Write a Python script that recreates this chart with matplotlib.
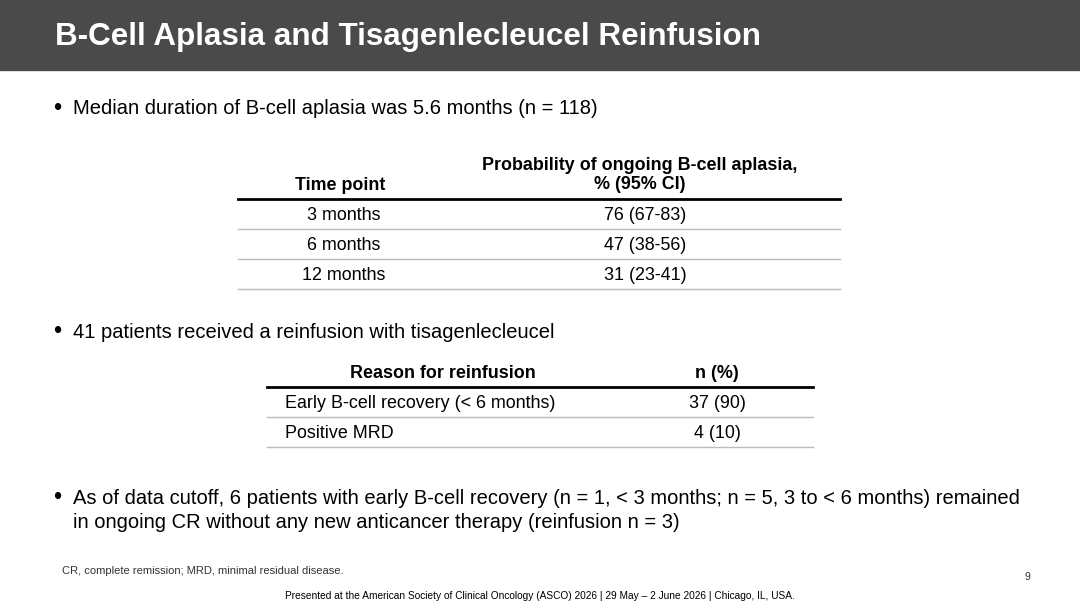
#!/usr/bin/env python
# -*- coding: utf8 -*-

import matplotlib.pyplot as plt

plt.rcParams['font.family'] = ['Liberation Sans', 'DejaVu Sans']

aplasia = [["3 months", "76 (67-83)"],
           ["6 months", "47 (38-56)"],
           ["12 months", "31 (23-41)"]]
reasons = [["Early B-cell recovery (< 6 months)", "37 (90)"],
           ["Positive MRD", "4 (10)"]]

def Slide(savefile):
  fig = plt.figure(figsize=(10.8, 6.08), dpi=100)
  ax = fig.add_axes([0, 0, 1, 1])
  ax.set_xlim(0, 1080)
  ax.set_ylim(608, 0)
  ax.axis("off")

  # header band
  ax.fill_between([0, 1080], 0, 70, color="#4a4a4a")
  ax.text(55, 37, "B-Cell Aplasia and Tisagenlecleucel Reinfusion", color="white",
          fontsize=22.6, fontweight="bold", va="center")

  # bullets
  bullets = [(109, "Median duration of B-cell aplasia was 5.6 months (n = 118)"),
             (332, "41 patients received a reinfusion with tisagenlecleucel"),
             (498, "As of data cutoff, 6 patients with early B-cell recovery (n = 1, < 3 months; n = 5, 3 to < 6 months) remained"),
             (522, "in ongoing CR without any new anticancer therapy (reinfusion n = 3)")]
  for y, s in bullets:
    if not s.startswith("in ongoing"):
      ax.text(57, y, u"\u2022", fontsize=17, va="center", ha="center")
    ax.text(73, y, s, fontsize=14.5, va="center")

  # table 1
  ax.text(340, 186, "Time point", fontsize=12.9, fontweight="bold", ha="center", va="center")
  ax.text(640, 175, "Probability of ongoing B-cell aplasia,\n% (95% CI)", fontsize=12.9,
          fontweight="bold", ha="center", va="center", linespacing=1.15)
  ax.plot([238, 840], [199, 199], color="black", lw=2)
  for i, row in enumerate(aplasia):
    y = 215 + 30*i
    ax.text(344, y, row[0], fontsize=12.9, ha="center", va="center")
    ax.text(645, y, row[1], fontsize=12.9, ha="center", va="center")
    ax.plot([238, 840], [y+14, y+14], color="#bbbbbb", lw=1)

  # table 2
  ax.text(443, 374, "Reason for reinfusion", fontsize=12.9, fontweight="bold", ha="center", va="center")
  ax.text(717, 374, "n (%)", fontsize=12.9, fontweight="bold", ha="center", va="center")
  ax.plot([267, 813], [387, 387], color="black", lw=2)
  for i, row in enumerate(reasons):
    y = 404 + 29.5*i
    ax.text(285, y, row[0], fontsize=12.9, va="center")
    ax.text(717, y, row[1], fontsize=12.9, ha="center", va="center")
    ax.plot([267, 813], [y+13, y+13], color="#bbbbbb", lw=1)

  # footer
  ax.text(62, 571, "CR, complete remission; MRD, minimal residual disease.", fontsize=8, va="center", color="#333333")
  ax.text(1030, 577, "9", fontsize=7.5, va="center", ha="right", color="#333333")
  ax.text(540, 596, "Presented at the American Society of Clinical Oncology (ASCO) 2026 | 29 May \u2013 2 June 2026 | Chicago, IL, USA.",
          fontsize=7.3, ha="center", va="center")
  plt.savefig(savefile)
  return "Success."

print(Slide("out.png"))
